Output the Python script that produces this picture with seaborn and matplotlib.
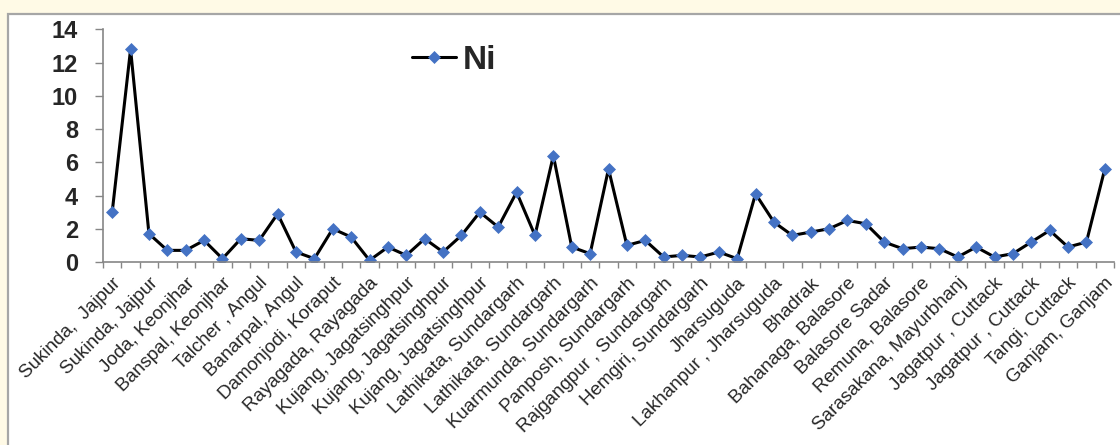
import numpy as np
import pandas as pd
import matplotlib
matplotlib.use("Agg")
import matplotlib.pyplot as plt
from matplotlib.patches import Rectangle
import seaborn as sns

# Ni concentration at each sampling site (55 sites, every other one labelled)
ni_values = [3.0, 12.8, 1.7, 0.7, 0.7, 1.3, 0.2, 1.4, 1.3, 2.9,
             0.6, 0.2, 2.0, 1.5, 0.1, 0.9, 0.4, 1.4, 0.6, 1.6,
             3.0, 2.1, 4.2, 1.6, 6.4, 0.9, 0.5, 5.6, 1.0, 1.3,
             0.3, 0.4, 0.3, 0.6, 0.2, 4.1, 2.4, 1.6, 1.8, 2.0,
             2.5, 2.3, 1.2, 0.8, 0.9, 0.8, 0.3, 0.9, 0.3, 0.5,
             1.2, 1.9, 0.9, 1.2, 5.6]

site_labels = ["Sukinda,  Jajpur", "Sukinda, Jajpur", "Joda, Keonjhar",
               "Banspal, Keonjhar", "Talcher , Angul", "Banarpal, Angul",
               "Damonjodi, Koraput", "Rayagada, Rayagada",
               "Kujang, Jagatsinghpur", "Kujang, Jagatsinghpur",
               "Kujang, Jagatsinghpur", "Lathikata, Sundargarh",
               "Lathikata, Sundargarh", "Kuarmunda, Sundargarh",
               "Panposh, Sundargarh", "Rajgangpur , Sundargarh",
               "Hemgiri, Sundargarh", "Jharsuguda", "Lakhanpur , Jharsuguda",
               "Bhadrak", "Bahanaga, Balasore", "Balasore Sadar",
               "Remuna, Balasore", "Sarasakana, Mayurbhanj",
               "Jagatpur , Cuttack", "Jagatpur , Cuttack", "Tangi, Cuttack",
               "Ganjam, Ganjam"]

y_ticks = [0, 2, 4, 6, 8, 10, 12, 14]

df = pd.DataFrame({"site": np.arange(len(ni_values)), "Ni": ni_values})

sns.set_style("white")
plt.rcParams['font.family'] = ['Liberation Sans', 'DejaVu Sans']

fig = plt.figure(figsize=(11.2, 4.45), dpi=100, facecolor="#fffae6")
# white chart area with grey frame
fig.patches.append(Rectangle((8 / 1120, -0.1), 1.1, 1.1 - 14 / 445,
                             transform=fig.transFigure, facecolor="white",
                             edgecolor="#a6a6a6", lw=1.6, zorder=-1))

ax = fig.add_axes([103 / 1120, 1 - 262 / 445, 1011 / 1120, 232.7 / 445])
ax.set_facecolor("none")

sns.lineplot(data=df, x="site", y="Ni", ax=ax, color="black", lw=2.2,
             marker="D", markersize=6.5, markerfacecolor="#4472c4",
             markeredgecolor="#4472c4", markeredgewidth=0.5, label="Ni")

ax.set_xlim(-0.5, len(ni_values) - 0.5)
ax.set_ylim(0, 14)
ax.set_yticks(y_ticks)
ax.set_yticklabels([str(v) for v in y_ticks], fontweight="bold", fontsize=17)
ax.tick_params(axis="y", direction="out", length=6, width=1, color="#868686",
               pad=12, left=True)

ax.set_xticks(np.arange(0, len(ni_values), 2))
ax.set_xticklabels(site_labels, rotation=45, ha="right", rotation_mode="anchor",
                   fontsize=13.5)
ax.set_xticks(np.arange(-0.5, len(ni_values), 1), minor=True)
ax.tick_params(axis="x", which="major", length=0, pad=9)
ax.tick_params(axis="x", which="minor", direction="out", length=4.5, width=1,
               color="#868686", bottom=True)

ax.set_xlabel("")
ax.set_ylabel("")
for s in ["top", "right"]:
    ax.spines[s].set_visible(False)
for s in ["left", "bottom"]:
    ax.spines[s].set_color("#868686")
    ax.spines[s].set_linewidth(1.2)

leg = ax.legend(loc="center left", bbox_to_anchor=(0.306, 0.868), frameon=False,
                borderpad=0, borderaxespad=0, handlelength=1.3,
                handletextpad=0.2, prop={"size": 24, "weight": "bold"})

fig.savefig("out.png", dpi=100, facecolor=fig.get_facecolor())
